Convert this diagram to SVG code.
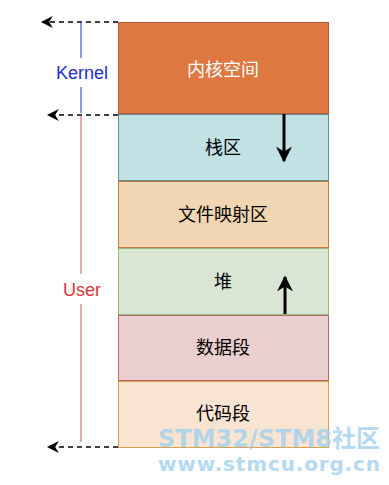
<svg xmlns="http://www.w3.org/2000/svg" width="389" height="485" viewBox="0 0 389 485">
<style>
.lbl{font-family:"Liberation Sans","Noto Sans CJK SC",sans-serif;font-size:18px;text-anchor:middle;dominant-baseline:central}
.dash{stroke:#000;stroke-width:1.3;stroke-dasharray:5 4;fill:none}
.wm{font-family:"DejaVu Sans","Noto Sans CJK SC",sans-serif;font-weight:bold;fill:#9fd0ee;fill-opacity:0.8}
</style>
<defs>
<marker id="ah" viewBox="0 0 10 10" refX="9" refY="5" markerWidth="12" markerHeight="12" markerUnits="userSpaceOnUse" orient="auto">
<path d="M0,0 L10,5 L0,10 L3,5 Z" fill="#000"/>
</marker>
<marker id="ah2" viewBox="0 0 10 10" refX="9" refY="5" markerWidth="16" markerHeight="16" markerUnits="userSpaceOnUse" orient="auto">
<path d="M0,0 L10,5 L0,10 L3,5 Z" fill="#000"/>
</marker>
</defs>
<g id="kernel"><rect x="118.5" y="22.5" width="210" height="91" fill="#dc7840" stroke="#b5583a"/><text class="lbl" x="223" y="70" fill="#fff">内核空间</text></g>
<g id="stack"><rect x="118.5" y="114.5" width="210" height="66" fill="#c1e1e4" stroke="#5d8f95"/><text class="lbl" x="223" y="148">栈区</text></g>
<g id="mmap"><rect x="118.5" y="181.5" width="210" height="66" fill="#f2d6b3" stroke="#c27c3c"/><text class="lbl" x="223" y="215">文件映射区</text></g>
<g id="heap"><rect x="118.5" y="248.5" width="210" height="66" fill="#dae6d4" stroke="#93bb7a"/><text class="lbl" x="223" y="282">堆</text></g>
<g id="data"><rect x="118.5" y="315.5" width="210" height="65" fill="#ebcfce" stroke="#b76a6a"/><text class="lbl" x="223" y="348">数据段</text></g>
<g id="code"><rect x="118.5" y="381.5" width="210" height="66" fill="#f9e4d2" stroke="#d6a24f"/><text class="lbl" x="223" y="414">代码段</text></g>
<g id="kernel-label"><text class="lbl" x="82" y="73" fill="#1d2fcf">Kernel</text></g>
<g id="user-label"><text class="lbl" x="82" y="290" fill="#d43a3a">User</text></g>
<g id="connectors">
<line class="dash" x1="118" y1="22" x2="42" y2="22" marker-end="url(#ah)"/>
<line class="dash" x1="118" y1="115" x2="48" y2="115" marker-end="url(#ah)"/>
<line class="dash" x1="118" y1="447" x2="48" y2="447" marker-end="url(#ah)"/>
<line x1="81" y1="22" x2="81" y2="58" stroke="#1d2fcf" stroke-width="1"/>
<line x1="81" y1="87" x2="81" y2="113" stroke="#1d2fcf" stroke-width="1"/>
<line x1="81" y1="116" x2="81" y2="274" stroke="#c85a5a" stroke-width="1"/>
<line x1="81" y1="304" x2="81" y2="442" stroke="#c85a5a" stroke-width="1"/>
<line x1="284" y1="114" x2="284" y2="161" stroke="#000" stroke-width="3" marker-end="url(#ah2)"/>
<line x1="285" y1="314" x2="285" y2="277" stroke="#000" stroke-width="3" marker-end="url(#ah2)"/>
</g>
<text class="wm" x="158" y="447" font-size="24" textLength="222">STM32/STM8社区</text>
<text class="wm" x="158" y="471" font-size="20" textLength="222">www.stmcu.org.cn</text>
</svg>
